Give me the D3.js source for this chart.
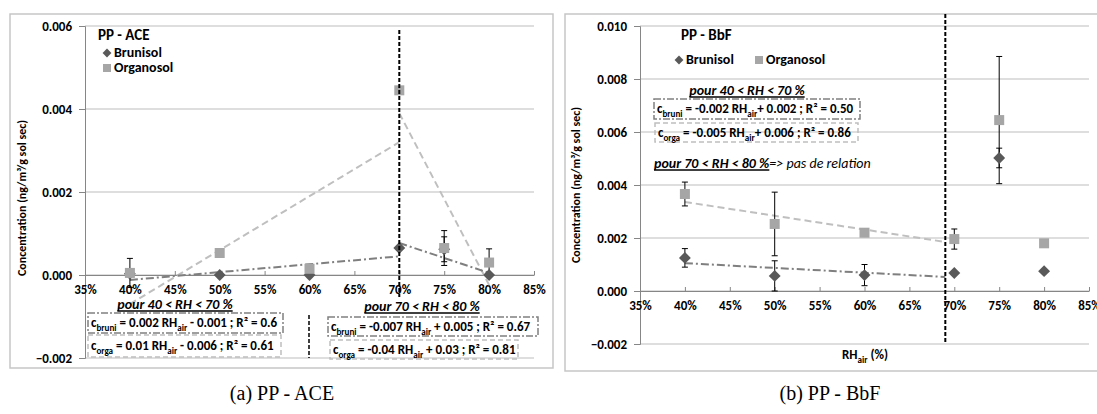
<!DOCTYPE html>
<html>
<head>
<meta charset="utf-8">
<script src="https://cdn.jsdelivr.net/npm/d3@7/dist/d3.min.js"></script>
<style>
body { margin: 0; background: #fff; }
text { font-family: Carlito, Lato, "Liberation Sans", sans-serif; }
.cap { font-family: "Liberation Serif", "DejaVu Serif", serif; }
</style>
</head>
<body>
<svg id="chart" width="1097" height="414"></svg>
<script>
// x axis ticks (relative humidity)
var rhTicks = [0.35, 0.40, 0.45, 0.50, 0.55, 0.60, 0.65, 0.70, 0.75, 0.80, 0.85];

// PP - ACE
var aceRH        = [0.40, 0.50, 0.60, 0.70, 0.75, 0.80];
var aceBruni     = [0.00003, 0.0000, 0.00000, 0.00065, 0.00062, 0.0000];
var aceBruniErr  = [0, 0, 0, 0, 0.0003, 0];
var aceOrga      = [0.00005, 0.00053, 0.00015, 0.00445, 0.00065, 0.0003];
var aceOrgaErr   = [0.00035, 0.0001, 0.00005, 0, 0.00042, 0.00033];
var aceYTicks    = [-0.002, 0, 0.002, 0.004, 0.006];
var aceTrendBruni = [[[0.40, -0.00012], [0.70, 0.00045]], [[0.70, 0.00077], [0.80, 0.00005]]];
var aceTrendOrga  = [[[0.40, -0.0007], [0.70, 0.0032]], [[0.70, 0.0039], [0.80, -0.00024]]];
var aceSplit = 0.70;

// PP - BbF
var bbfRH        = [0.40, 0.50, 0.60, 0.70, 0.75, 0.80];
var bbfBruni     = [0.00125, 0.00057, 0.0006, 0.00068, 0.00502, 0.00075];
var bbfBruniErr  = [0.00035, 0.00057, 0.0004, 0, 0.00037, 0];
var bbfOrga      = [0.00366, 0.00253, 0.0022, 0.00196, 0.00645, 0.0018];
var bbfOrgaErr   = [0.00045, 0.0012, 0, 0.00038, 0.0024, 0];
var bbfYTicks    = [-0.002, 0, 0.002, 0.004, 0.006, 0.008, 0.010];
var bbfTrendBruni = [[[0.40, 0.00105], [0.69, 0.00053]]];
var bbfTrendOrga  = [[[0.40, 0.00336], [0.69, 0.00185]]];
var bbfSplit = 0.69;

var seriesNames = ["Brunisol", "Organosol"];
var yTitle = "Concentration (ng/m³/g sol sec)";

var colBruni = "#595959", colOrga = "#a6a6a6";
var eqSize = 13;

var svg = d3.select("#chart");

// rich text: _{...} becomes subscript
function richText(sel, str, size) {
	var parts = str.split(/(_\{[^}]*\})/);
	var shifted = false;
	parts.forEach(function(p) {
		if (p === "") return;
		if (p.indexOf("_{") === 0) {
			sel.append("tspan").attr("dy", 4).style("font-size", (size * 0.7) + "px")
				.text(p.slice(2, -1));
			shifted = true;
		} else {
			var t = sel.append("tspan").text(p);
			if (shifted) { t.attr("dy", -4); shifted = false; }
		}
	});
}

function underlined(g, x, y, str, anchor, size) {
	var t = g.append("text").attr("x", x).attr("y", y)
		.attr("text-anchor", anchor)
		.style("font-size", size + "px").style("font-weight", "bold").style("font-style", "italic")
		.text(str);
	var w = t.node().getComputedTextLength();
	var x0 = anchor == "middle" ? x - w / 2 : x;
	g.append("line").attr("x1", x0).attr("x2", x0 + w).attr("y1", y + 2).attr("y2", y + 2)
		.attr("stroke", "#000").attr("stroke-width", 1.3);
	return w;
}

function eqBox(g, box, str, kind) {
	g.append("rect").attr("x", box[0]).attr("y", box[1]).attr("width", box[2]).attr("height", box[3])
		.attr("fill", "none")
		.attr("stroke", kind == "bruni" ? "#808080" : "#bfbfbf")
		.attr("stroke-width", 1.5)
		.attr("stroke-dasharray", kind == "bruni" ? "7,2,2,2" : "5,3");
	var t = g.append("text").attr("x", box[0] + 3).attr("y", box[1] + box[3] / 2 + 4)
		.style("font-size", eqSize + "px").style("font-weight", "bold");
	richText(t, str, eqSize);
}

function drawPanel(p) {
	var g = svg.append("g");

	g.append("rect").attr("x", p.frame[0]).attr("y", p.frame[1])
		.attr("width", p.frame[2]).attr("height", p.frame[3])
		.attr("fill", "#fff").attr("stroke", "#c6c6c6").attr("stroke-width", 1.5);

	var x = d3.scaleLinear().domain([0.35, 0.85]).range(p.xRange);
	var y = d3.scaleLinear().domain(p.yDomain).range(p.yRange);

	// gridlines
	g.append("g").selectAll("line").data(p.yTicks).enter().append("line")
		.attr("x1", p.xRange[0]).attr("x2", p.xRange[1])
		.attr("y1", function(d) { return y(d); }).attr("y2", function(d) { return y(d); })
		.attr("stroke", "#bdbdbd").attr("stroke-width", 1);

	// y axis
	var ya = g.append("g").attr("transform", "translate(" + p.xRange[0] + ",0)")
		.call(d3.axisLeft(y).tickValues(p.yTicks).tickFormat(d3.format(".3f")).tickSize(6).tickPadding(7));
	ya.select(".domain").attr("stroke", "#868686");
	ya.selectAll(".tick line").attr("stroke", "#868686");
	ya.selectAll("text").style("font-size", "13px").style("font-weight", "bold")
		.style("font-family", null).attr("fill", "#000");

	// x axis crossing at zero
	var xa = g.append("g").attr("transform", "translate(0," + y(0) + ")")
		.call(d3.axisBottom(x).tickValues(rhTicks).tickFormat(d3.format(".0%")).tickSize(-4).tickSizeOuter(0).tickPadding(10));
	xa.select(".domain").attr("stroke", "#868686");
	xa.selectAll(".tick line").attr("stroke", "#868686");
	xa.selectAll("text").style("font-size", "13px").style("font-weight", "bold")
		.style("font-family", null).attr("fill", "#000");

	// y title
	g.append("text")
		.attr("transform", "translate(" + p.yTitlePos[0] + "," + p.yTitlePos[1] + ") rotate(-90)")
		.attr("text-anchor", "middle")
		.style("font-size", "12px").style("font-weight", "bold")
		.text(yTitle);

	// trend lines
	var line = d3.line().x(function(d) { return x(d[0]); }).y(function(d) { return y(d[1]); });
	p.trendOrga.forEach(function(seg) {
		g.append("path").attr("d", line(seg)).attr("fill", "none")
			.attr("stroke", "#bfbfbf").attr("stroke-width", 2).attr("stroke-dasharray", "7,4");
	});
	p.trendBruni.forEach(function(seg) {
		g.append("path").attr("d", line(seg)).attr("fill", "none")
			.attr("stroke", "#7f7f7f").attr("stroke-width", 2).attr("stroke-dasharray", "8,3,2,3");
	});

	// error bars
	function errBars(vals, errs) {
		var d = p.rh.map(function(r, i) { return {r: r, v: vals[i], e: errs[i]}; })
			.filter(function(d) { return d.e > 0; });
		var eg = g.append("g").attr("stroke", "#000").attr("stroke-width", 1);
		eg.selectAll(".v").data(d).enter().append("line")
			.attr("x1", function(d) { return x(d.r); }).attr("x2", function(d) { return x(d.r); })
			.attr("y1", function(d) { return y(d.v - d.e); }).attr("y2", function(d) { return y(d.v + d.e); });
		[-1, 1].forEach(function(s) {
			eg.selectAll(".c" + s).data(d).enter().append("line")
				.attr("x1", function(d) { return x(d.r) - 3; }).attr("x2", function(d) { return x(d.r) + 3; })
				.attr("y1", function(d) { return y(d.v + s * d.e); }).attr("y2", function(d) { return y(d.v + s * d.e); });
		});
	}
	errBars(p.bruni, p.bruniErr);
	errBars(p.orga, p.orgaErr);

	// markers
	var diamond = d3.symbol().type(d3.symbolDiamond2).size(90);
	g.append("g").selectAll("path").data(p.bruni).enter().append("path")
		.attr("d", diamond)
		.attr("transform", function(d, i) { return "translate(" + x(p.rh[i]) + "," + y(d) + ")"; })
		.attr("fill", colBruni);
	g.append("g").selectAll("rect").data(p.orga).enter().append("rect")
		.attr("x", function(d, i) { return x(p.rh[i]) - 5; })
		.attr("y", function(d) { return y(d) - 5; })
		.attr("width", 10).attr("height", 10)
		.attr("fill", colOrga);

	// split line
	g.append("line").attr("x1", x(p.split)).attr("x2", x(p.split))
		.attr("y1", p.splitY[0]).attr("y2", p.splitY[1])
		.attr("stroke", "#000").attr("stroke-width", 2).attr("stroke-dasharray", "4,2");

	// title and legend
	g.append("text").attr("x", p.titlePos[0]).attr("y", p.titlePos[1])
		.style("font-size", "15px").style("font-weight", "bold").text(p.title);
	p.legendPos.forEach(function(pos, i) {
		if (i == 0) {
			g.append("path").attr("d", d3.symbol().type(d3.symbolDiamond2).size(50))
				.attr("transform", "translate(" + pos[0] + "," + (pos[1] - 4) + ")").attr("fill", colBruni);
		} else {
			g.append("rect").attr("x", pos[0] - 4).attr("y", pos[1] - 8).attr("width", 8).attr("height", 8)
				.attr("fill", colOrga);
		}
		g.append("text").attr("x", pos[0] + 7).attr("y", pos[1])
			.style("font-size", "14px").style("font-weight", "bold").text(seriesNames[i]);
	});
	return {g: g, x: x, y: y};
}

// ---- panel (a)
var A = drawPanel({
	frame: [10, 14, 543, 354],
	xRange: [85, 534], yRange: [358, 26], yDomain: [-0.002, 0.006], yTicks: aceYTicks,
	rh: aceRH, bruni: aceBruni, bruniErr: aceBruniErr, orga: aceOrga, orgaErr: aceOrgaErr,
	trendBruni: aceTrendBruni, trendOrga: aceTrendOrga,
	split: aceSplit, splitY: [30, 297],
	yTitlePos: [26, 198],
	title: "PP - ACE", titlePos: [98, 40],
	legendPos: [[107, 57], [107, 72]]
});
underlined(A.g, 175, 309, "pour 40 < RH < 70 %", "middle", 14);
underlined(A.g, 422, 311, "pour 70 < RH < 80 %", "middle", 14);
eqBox(A.g, [88, 313, 195, 20], "c_{bruni} = 0.002 RH_{air} - 0.001 ; R² = 0.6", "bruni");
eqBox(A.g, [88, 335, 193, 22], "c_{orga} = 0.01 RH_{air} - 0.006 ; R² = 0.61", "orga");
eqBox(A.g, [328, 317, 210, 19], "c_{bruni} = -0.007 RH_{air} + 0.005 ; R² = 0.67", "bruni");
eqBox(A.g, [330, 340, 188, 19], "c_{orga} = -0.04 RH_{air} + 0.03 ; R² = 0.81", "orga");
A.g.append("line").attr("x1", 309).attr("x2", 309).attr("y1", 315).attr("y2", 358)
	.attr("stroke", "#000").attr("stroke-width", 1.5).attr("stroke-dasharray", "4,2");

// ---- panel (b)
var B = drawPanel({
	frame: [565, 14, 540, 357],
	xRange: [640, 1089], yRange: [344, 26], yDomain: [-0.002, 0.010], yTicks: bbfYTicks,
	rh: bbfRH, bruni: bbfBruni, bruniErr: bbfBruniErr, orga: bbfOrga, orgaErr: bbfOrgaErr,
	trendBruni: bbfTrendBruni, trendOrga: bbfTrendOrga,
	split: bbfSplit, splitY: [14, 342],
	yTitlePos: [580, 185],
	title: "PP - BbF", titlePos: [681, 40],
	legendPos: [[679, 64], [759, 64]]
});
underlined(B.g, 747, 95, "pour 40 < RH < 70 %", "middle", 14);
eqBox(B.g, [654, 99, 206, 20], "c_{bruni} = -0.002 RH_{air}+ 0.002 ; R² = 0.50", "bruni");
eqBox(B.g, [655, 123, 203, 19], "c_{orga} = -0.005 RH_{air}+ 0.006 ; R² = 0.86", "orga");
var w = underlined(B.g, 654, 168, "pour 70 < RH < 80 % ", "start", 14);
B.g.append("text").attr("x", 654 + w).attr("y", 168)
	.style("font-size", "14px").style("font-style", "italic").text("=> pas de relation");
var xt = B.g.append("text").attr("x", 842).attr("y", 359)
	.style("font-size", "13px").style("font-weight", "bold");
richText(xt, "RH_{air} (%)", 13);

// captions
svg.append("text").attr("class", "cap").attr("x", 282).attr("y", 400).attr("text-anchor", "middle")
	.style("font-size", "20px").text("(a) PP - ACE");
svg.append("text").attr("class", "cap").attr("x", 830).attr("y", 400).attr("text-anchor", "middle")
	.style("font-size", "20px").text("(b) PP - BbF");
</script>
</body>
</html>
